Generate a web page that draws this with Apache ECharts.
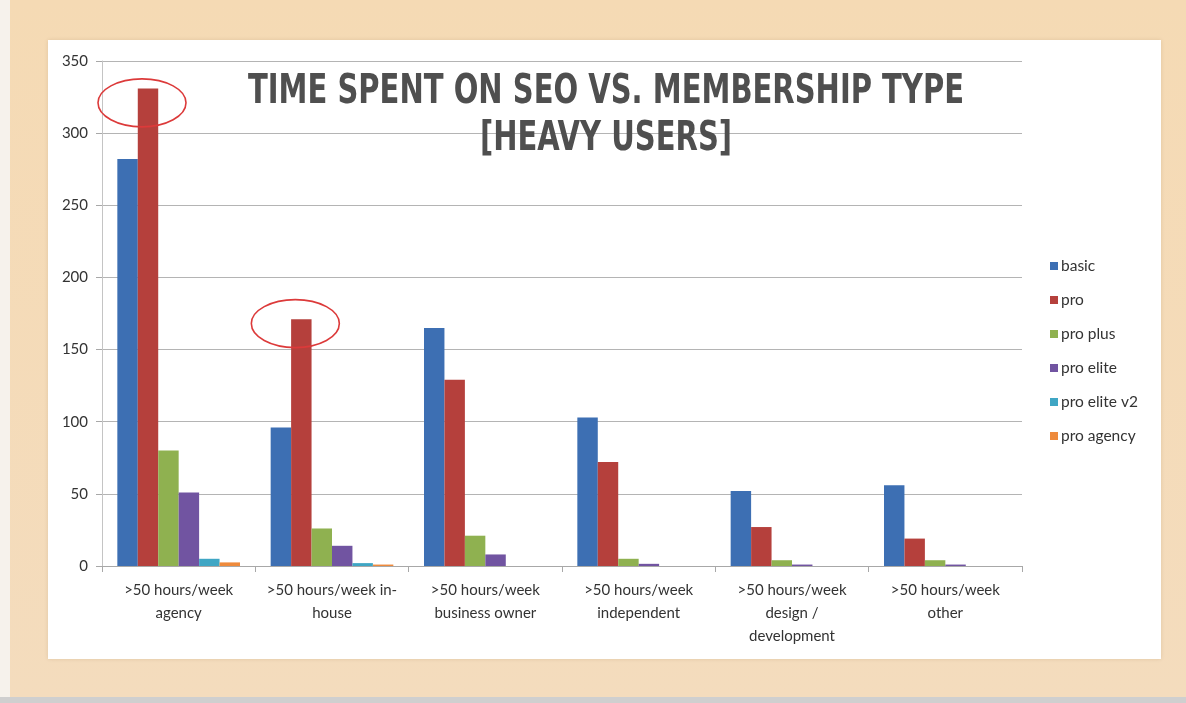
<!DOCTYPE html>
<html>
<head>
<meta charset="utf-8">
<script src="https://cdn.jsdelivr.net/npm/echarts@6/dist/echarts.min.js"></script>
<style>
  html, body { margin: 0; padding: 0; background: #f6f2ec; }
  #chart { width: 1186px; height: 703px; }
</style>
</head>
<body>
<div id="chart"></div>
<script>
// Hours spent on SEO per week, by user segment and membership type
const categories = [
  '>50 hours/week\nagency',
  '>50 hours/week in-\nhouse',
  '>50 hours/week\nbusiness owner',
  '>50 hours/week\nindependent',
  '>50 hours/week\ndesign /\ndevelopment',
  '>50 hours/week\nother'
];
const seriesNames = ['basic', 'pro', 'pro plus', 'pro elite', 'pro elite v2', 'pro agency'];
const basic      = [282, 96, 165, 103, 52, 56];
const pro        = [331, 171, 129, 72, 27, 19];
const proPlus    = [80, 26, 21, 5, 4, 4];
const proElite   = [51, 14, 8, 1.5, 1, 1];
const proEliteV2 = [5, 2, 0, 0, 0, 0];
const proAgency  = [2.5, 1, 0, 0, 0, 0];
const yTicks = [0, 50, 100, 150, 200, 250, 300, 350];
const titleLines = ['TIME SPENT ON SEO VS. MEMBERSHIP TYPE', '[HEAVY USERS]'];
// highlighted "pro" bars: [category index, value at ellipse centre]
const highlights = [[0, 321], [1, 168]];

const colors = ['#3d6fb3', '#b5403c', '#8fb150', '#7154a1', '#3fa6c4', '#ee8a3c'];
const seriesData = [basic, pro, proPlus, proElite, proEliteV2, proAgency];

const chart = echarts.init(document.getElementById('chart'));

// fit the headline into its band by measuring it first
const TITLE_FONT = 'bold 40px "DejaVu Sans Condensed"';
const measureCtx = document.createElement('canvas').getContext('2d');
measureCtx.font = TITLE_FONT;
const line1W = measureCtx.measureText(titleLines[0]).width;
const titleScale = 716 / line1W;

const option = {
  animation: false,
  color: colors,
  grid: { left: 102, right: 164, top: 61, bottom: 137, containLabel: false },
  legend: {
    orient: 'vertical',
    left: 1045,
    top: 252,
    itemWidth: 8,
    itemHeight: 8,
    itemGap: 16,
    icon: 'rect',
    data: seriesNames,
    textStyle: { fontFamily: 'Lato', fontSize: 15.5, color: '#333', lineHeight: 18, padding: [0, 0, 0, -2] }
  },
  xAxis: {
    type: 'category',
    data: categories,
    axisLine: { lineStyle: { color: '#a8a8a8', width: 1 } },
    axisTick: { show: true, length: 6, alignWithLabel: false, interval: 0, lineStyle: { color: '#a8a8a8' } },
    axisLabel: {
      interval: 0, margin: 13, fontFamily: 'Lato', fontSize: 15, color: '#333', lineHeight: 23
    }
  },
  yAxis: {
    type: 'value',
    min: yTicks[0],
    max: yTicks[yTicks.length - 1],
    interval: yTicks[1] - yTicks[0],
    axisLine: { show: true, lineStyle: { color: '#c4c4c4', width: 1 } },
    axisTick: { show: true, length: 6, lineStyle: { color: '#a8a8a8' } },
    axisLabel: { margin: 14, fontFamily: 'Lato', fontSize: 15, color: '#333' },
    splitLine: { lineStyle: { color: '#b4b4b4', width: 1.2 } }
  },
  series: seriesNames.map((name, i) => ({
    name: name,
    type: 'bar',
    data: seriesData[i],
    barGap: '0%',
    barCategoryGap: '20%',
    itemStyle: { color: colors[i] }
  })),
  graphic: [
    // paper backdrop
    { type: 'rect', z: -10, silent: true, shape: { x: 10, y: 0, width: 1176, height: 697 },
      style: { fill: new echarts.graphic.LinearGradient(0, 0, 0, 1, [
        { offset: 0, color: '#f5dab4' }, { offset: 1, color: '#f4dcbd' }]) } },
    { type: 'rect', z: -10, silent: true, shape: { x: 0, y: 697, width: 1186, height: 6 },
      style: { fill: '#cfcfcf' } },
    // white card
    { type: 'rect', z: -9, silent: true, shape: { x: 48, y: 40, width: 1113, height: 619 },
      style: { fill: '#ffffff', shadowBlur: 4, shadowColor: 'rgba(150,120,80,0.25)' } }
  ]
};
chart.setOption(option);

// headline and red highlight ellipses, placed through the chart's scales
const extra = [];
titleLines.forEach((t, i) => {
  extra.push({
    type: 'text', z: 10, silent: true,
    x: 606, y: i === 0 ? 93 : 140,
    scaleX: titleScale, scaleY: 1,
    style: { text: t, font: TITLE_FONT, fill: '#4f4f4f', align: 'center', verticalAlign: 'middle' }
  });
});
highlights.forEach(([ci, v]) => {
  const p = chart.convertToPixel({ gridIndex: 0 }, [ci, v]);
  const catW = chart.convertToPixel({ gridIndex: 0 }, [1, 0])[0] - chart.convertToPixel({ gridIndex: 0 }, [0, 0])[0];
  // pro bar is the 2nd of six bars filling 80% of the category band
  const barW = catW * 0.8 / 6;
  const cx = p[0] - catW * 0.4 + barW * 1.5 - 6;
  extra.push({
    type: 'ellipse', z: 20, silent: true,
    shape: { cx: cx, cy: p[1], rx: 44, ry: 24 },
    style: { fill: 'none', stroke: '#dc3a3a', lineWidth: 1.6 }
  });
});
chart.setOption({ graphic: option.graphic.concat(extra) });
</script>
</body>
</html>
